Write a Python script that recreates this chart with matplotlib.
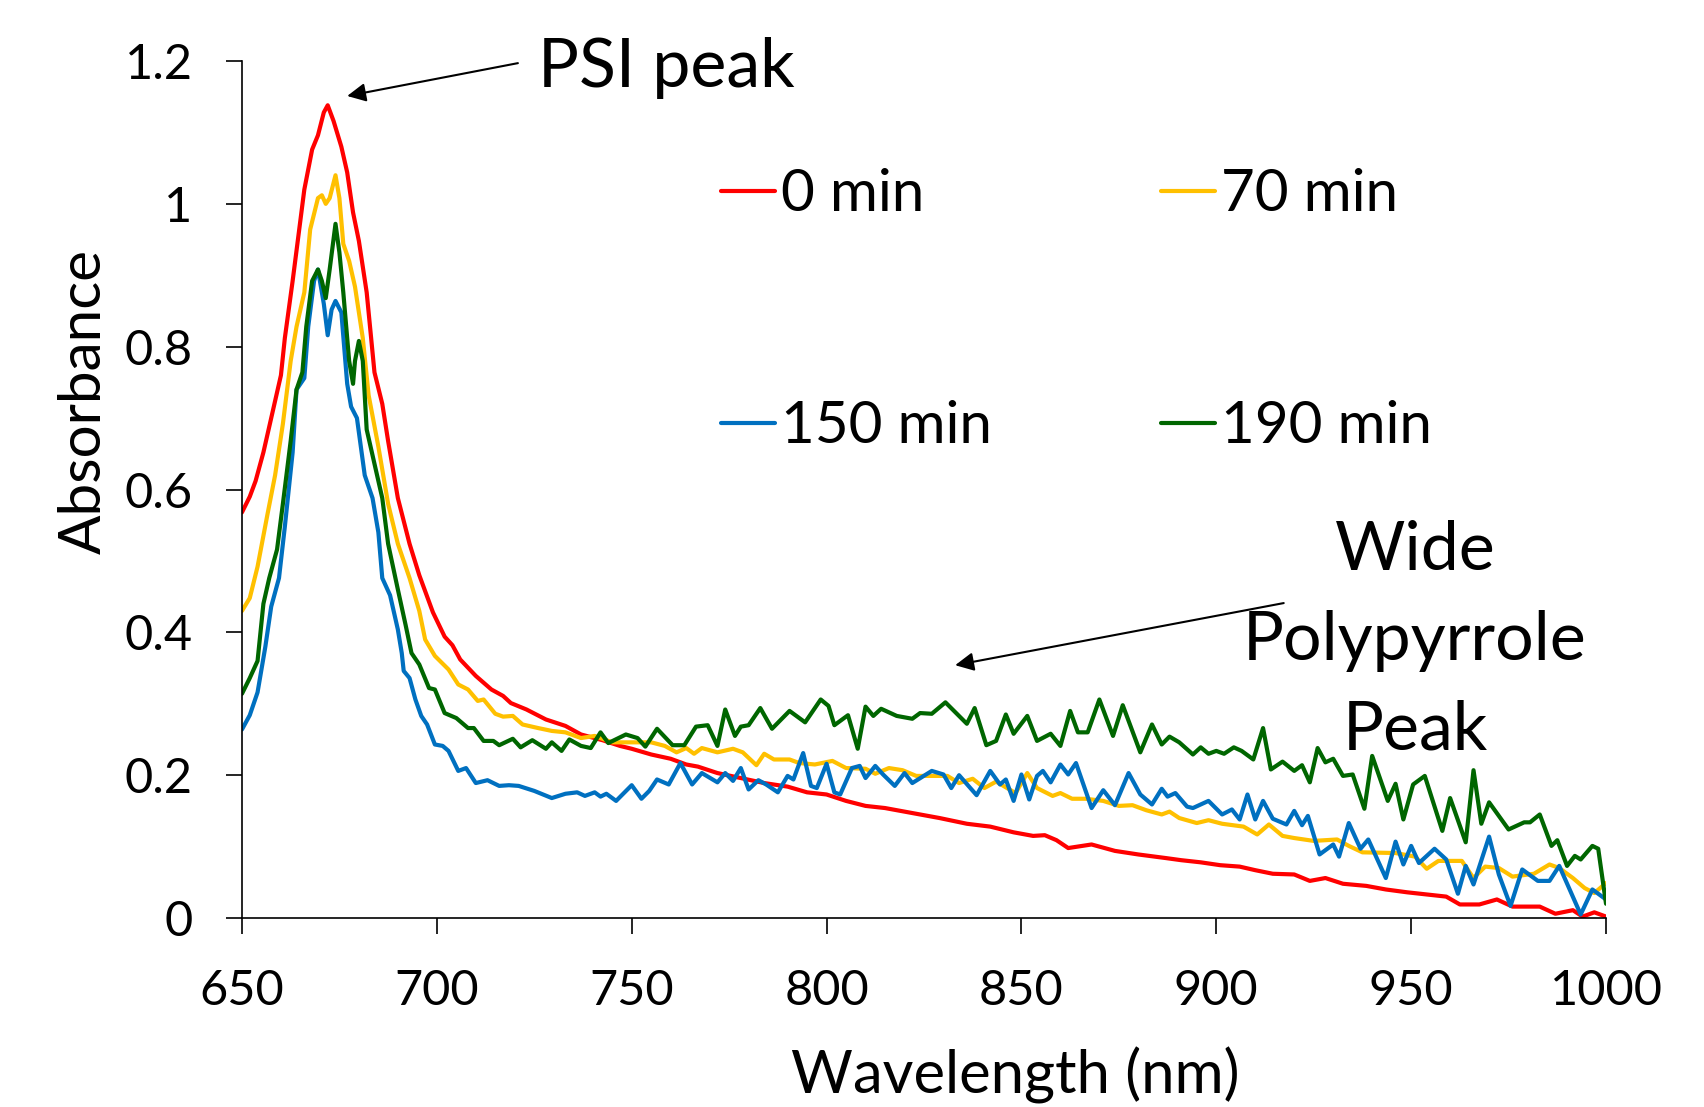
import matplotlib
matplotlib.use("Agg")
import matplotlib.pyplot as plt
from matplotlib.ticker import FuncFormatter

plt.rcParams['font.family'] = ['Lato', 'DejaVu Sans']

# absorbance spectra (wavelength in nm)
wl_0 = [650, 652, 653.5, 655.5, 657.5, 660, 661, 663, 664.5, 666, 668, 669.5, 671, 672, 673.5, 675.5, 677,
        678.5, 680, 682, 684, 686, 687.5, 690, 693, 695.5, 699, 702, 704, 706, 710, 714, 717, 719, 723, 728,
        733, 737, 742.5, 747, 750, 755, 760, 764, 767, 772, 778, 784, 790, 795, 800, 805, 810, 815, 822, 829,
        836, 842, 848, 853, 856, 859, 862, 868, 874, 880, 887, 891, 896, 901, 906, 910, 914.5, 920, 924, 928,
        932.5, 938.5, 943.5, 949, 954, 959, 962.5, 967.5, 972, 976, 983, 987, 991.5, 994, 997, 1000]
abs_0 = [0.568, 0.59, 0.612, 0.652, 0.70, 0.76, 0.812, 0.892, 0.956, 1.02, 1.076, 1.096, 1.128, 1.138, 1.116,
         1.08, 1.044, 0.988, 0.948, 0.876, 0.764, 0.72, 0.668, 0.588, 0.524, 0.48, 0.428, 0.394, 0.382, 0.362,
         0.339, 0.32, 0.311, 0.301, 0.292, 0.278, 0.269, 0.257, 0.249, 0.241, 0.237, 0.229, 0.223, 0.215, 0.212,
         0.203, 0.196, 0.189, 0.184, 0.176, 0.173, 0.164, 0.157, 0.154, 0.147, 0.14, 0.132, 0.128, 0.12, 0.115,
         0.116, 0.109, 0.098, 0.103, 0.094, 0.089, 0.084, 0.081, 0.078, 0.074, 0.072, 0.067, 0.062, 0.061, 0.052,
         0.056, 0.048, 0.045, 0.04, 0.036, 0.033, 0.03, 0.019, 0.019, 0.026, 0.016, 0.016, 0.006, 0.011, 0.002,
         0.008, 0.002]

wl_70 = [650, 652, 654, 656.5, 658.5, 660.5, 662.5, 664, 666, 667.5, 669.5, 670.5, 671.5, 672.5, 674, 675, 676,
         677.5, 679, 681, 682.5, 685, 687.5, 690, 693, 695.5, 697, 699.5, 703, 705.5, 708, 710.5, 712, 715, 717,
         719.5, 722, 726, 729.5, 733, 737, 740.5, 745, 752, 755, 758.5, 761.5, 764, 766, 768, 772, 776, 778.5,
         782, 784, 786.5, 790.5, 793, 797, 801.5, 805, 810, 812.5, 816, 819.5, 823, 831, 834, 837.5, 840.5,
         843.5, 848.5, 851.5, 854, 858, 860, 863, 866.5, 871, 875, 878.5, 882, 886, 888, 890.5, 895, 898, 901.5,
         907, 910.5, 913.5, 917, 920, 925, 931, 934, 937.5, 946, 951, 954, 957, 963, 966, 969, 972.5, 976,
         981.5, 985.5, 988, 991.5, 994.5, 997, 1000]
abs_70 = [0.43, 0.448, 0.492, 0.564, 0.62, 0.692, 0.78, 0.828, 0.876, 0.964, 1.008, 1.012, 1.0, 1.008, 1.04,
          1.008, 0.944, 0.92, 0.884, 0.812, 0.732, 0.66, 0.58, 0.524, 0.476, 0.43, 0.39, 0.367, 0.348, 0.327,
          0.32, 0.304, 0.306, 0.286, 0.282, 0.283, 0.271, 0.266, 0.262, 0.26, 0.252, 0.255, 0.246, 0.246, 0.246,
          0.241, 0.232, 0.238, 0.23, 0.238, 0.232, 0.237, 0.232, 0.214, 0.23, 0.222, 0.222, 0.217, 0.215, 0.22,
          0.21, 0.209, 0.202, 0.21, 0.207, 0.199, 0.199, 0.189, 0.195, 0.182, 0.191, 0.175, 0.203, 0.182, 0.171,
          0.175, 0.167, 0.167, 0.164, 0.157, 0.158, 0.151, 0.145, 0.149, 0.14, 0.133, 0.137, 0.132, 0.128, 0.117,
          0.131, 0.115, 0.112, 0.108, 0.11, 0.101, 0.092, 0.091, 0.086, 0.069, 0.08, 0.08, 0.056, 0.072, 0.07,
          0.058, 0.062, 0.075, 0.07, 0.056, 0.042, 0.035, 0.049]

wl_150 = [650, 652, 654, 656, 657.5, 659.5, 661, 663, 664, 666, 667, 668.5, 669.5, 671, 672, 673, 674, 675.5,
          677, 678, 679.5, 681.5, 683.5, 685, 686, 688, 690, 691, 691.5, 693, 694.5, 696, 697.5, 699.5, 701.5,
          703, 705.5, 707.5, 710, 713, 716, 718.5, 721, 725, 729.5, 733, 736, 738, 740.5, 742, 743.5, 746, 750,
          752.5, 754.5, 756.5, 759.5, 762.5, 765.5, 768, 772, 774, 776, 778, 780, 782.5, 784.5, 787.5, 790,
          791.5, 794, 796, 797.5, 800, 802, 803.5, 806.5, 808.5, 810, 812.5, 814.5, 817.5, 820, 822, 827, 830,
          832, 834, 838.5, 842, 844.5, 846, 848, 850, 852, 854, 855.5, 857.5, 860, 862, 864, 868, 871, 874,
          877.5, 880.5, 883.5, 886, 887.5, 889.5, 892.5, 894, 898, 901.5, 904, 906, 908, 910, 912, 914.5, 918,
          920, 922, 923.5, 926.5, 930, 931.5, 934, 937, 939, 943.5, 946, 948, 950, 952, 956, 959, 962, 964, 966,
          970, 972.5, 975.5, 978.5, 982.5, 985.5, 988, 993.5, 996.5, 1000]
abs_150 = [0.264, 0.284, 0.316, 0.38, 0.436, 0.476, 0.548, 0.652, 0.74, 0.756, 0.828, 0.892, 0.908, 0.86,
           0.816, 0.852, 0.864, 0.848, 0.748, 0.716, 0.70, 0.62, 0.588, 0.54, 0.476, 0.452, 0.404, 0.371, 0.346,
           0.336, 0.306, 0.283, 0.271, 0.243, 0.241, 0.234, 0.206, 0.21, 0.189, 0.193, 0.185, 0.186, 0.185,
           0.178, 0.168, 0.174, 0.176, 0.171, 0.176, 0.17, 0.174, 0.164, 0.186, 0.167, 0.178, 0.194, 0.187,
           0.217, 0.187, 0.203, 0.19, 0.203, 0.192, 0.21, 0.18, 0.193, 0.187, 0.176, 0.199, 0.194, 0.231, 0.185,
           0.182, 0.216, 0.176, 0.173, 0.21, 0.213, 0.196, 0.213, 0.201, 0.185, 0.203, 0.189, 0.206, 0.201,
           0.182, 0.2, 0.172, 0.206, 0.187, 0.194, 0.164, 0.201, 0.166, 0.199, 0.206, 0.19, 0.215, 0.201, 0.217,
           0.154, 0.179, 0.158, 0.203, 0.173, 0.159, 0.181, 0.17, 0.175, 0.156, 0.154, 0.164, 0.145, 0.152,
           0.138, 0.173, 0.138, 0.164, 0.139, 0.131, 0.15, 0.13, 0.143, 0.089, 0.103, 0.086, 0.133, 0.097, 0.11,
           0.056, 0.107, 0.075, 0.101, 0.077, 0.097, 0.082, 0.034, 0.073, 0.047, 0.114, 0.061, 0.017, 0.068,
           0.052, 0.052, 0.073, 0.005, 0.04, 0.026]

wl_190 = [650, 652, 654, 655.5, 657, 659, 660.5, 662.5, 664, 665.5, 666.5, 668, 669.5, 670.5, 671.5, 672.5,
          674, 675, 676, 677.5, 678.5, 679, 680, 681, 682, 684, 686, 687.5, 690, 692, 693.5, 695.5, 698, 699.5,
          702, 705, 708, 709.5, 712, 714.5, 716, 719.5, 721.5, 724.5, 728, 729.5, 732, 734, 737, 739.5, 742,
          744, 748.5, 751.5, 753.5, 756.5, 760.5, 763.5, 766.5, 769.5, 772, 774, 776.5, 778, 780, 783, 786,
          790.5, 794.5, 798.5, 800.5, 802, 805.5, 808, 810, 812, 814, 818, 822, 824, 827, 830.5, 836, 838, 841,
          843.5, 846, 848, 851.5, 854, 857.5, 860, 862.5, 864.5, 867, 870, 873.5, 876, 880.5, 883.5, 886, 888,
          890.5, 894, 896, 898, 900, 902, 904.5, 906.5, 909.5, 912, 914, 917, 920, 922, 924, 926, 928, 930,
          932.5, 935, 938, 940, 944, 946, 948, 950.5, 953.5, 958, 960, 964, 966, 968, 970, 975, 979, 980.5, 983,
          986, 987.5, 990, 992, 993.5, 996.5, 998, 1000]
abs_190 = [0.314, 0.336, 0.36, 0.44, 0.476, 0.516, 0.58, 0.668, 0.74, 0.764, 0.828, 0.892, 0.908, 0.892, 0.868,
           0.908, 0.972, 0.932, 0.876, 0.78, 0.748, 0.78, 0.808, 0.78, 0.684, 0.636, 0.588, 0.524, 0.46, 0.41,
           0.371, 0.355, 0.322, 0.32, 0.287, 0.28, 0.266, 0.266, 0.248, 0.248, 0.242, 0.251, 0.239, 0.249,
           0.237, 0.246, 0.234, 0.25, 0.241, 0.238, 0.26, 0.245, 0.257, 0.252, 0.24, 0.265, 0.242, 0.242, 0.268,
           0.27, 0.241, 0.292, 0.255, 0.268, 0.27, 0.294, 0.265, 0.29, 0.274, 0.306, 0.297, 0.27, 0.284, 0.237,
           0.296, 0.283, 0.293, 0.283, 0.279, 0.287, 0.286, 0.302, 0.272, 0.294, 0.242, 0.248, 0.285, 0.258,
           0.283, 0.248, 0.258, 0.241, 0.29, 0.26, 0.26, 0.306, 0.255, 0.298, 0.232, 0.271, 0.243, 0.254, 0.246,
           0.229, 0.239, 0.23, 0.234, 0.23, 0.239, 0.234, 0.222, 0.266, 0.208, 0.219, 0.206, 0.214, 0.19, 0.238,
           0.218, 0.223, 0.199, 0.201, 0.153, 0.227, 0.164, 0.188, 0.138, 0.187, 0.199, 0.122, 0.168, 0.106,
           0.207, 0.132, 0.162, 0.124, 0.134, 0.134, 0.145, 0.101, 0.109, 0.073, 0.087, 0.082, 0.101, 0.097,
           0.02]

labels = ['0 min', '70 min', '150 min', '190 min']
colors = ['#FF0000', '#FFC000', '#0070C0', '#006600']

x_ticks = [650, 700, 750, 800, 850, 900, 950, 1000]
y_ticks = [0, 0.2, 0.4, 0.6, 0.8, 1.0, 1.2]

fig = plt.figure(figsize=(17.04, 11.07), dpi=100)
ax = fig.add_axes([0.142, 0.1707, 0.8005, 0.7742])

series = [(wl_0, abs_0), (wl_70, abs_70), (wl_150, abs_150), (wl_190, abs_190)]
handles = []
for (x, y), lab, c in zip(series, labels, colors):
    h, = ax.plot(x, y, color=c, lw=3.0, label=lab, solid_joinstyle='round', solid_capstyle='round')
    handles.append(h)

ax.set_xlim(650, 1000)
ax.set_ylim(0, 1.2)
ax.set_xticks(x_ticks)
ax.set_yticks(y_ticks)
ax.yaxis.set_major_formatter(FuncFormatter(lambda v, p: '%g' % v))
for s in ['top', 'right']:
    ax.spines[s].set_visible(False)
for s in ['left', 'bottom']:
    ax.spines[s].set_linewidth(1.2)
ax.tick_params(axis='both', direction='out', length=11.5, width=1.2, labelsize=35)
ax.tick_params(axis='y', pad=24)
ax.tick_params(axis='x', pad=25)

ax.set_xlabel('Wavelength (nm)', fontsize=43)
ax.xaxis.set_label_coords(0.567, -0.15)
ax.set_ylabel('Absorbance', fontsize=42)
ax.yaxis.set_label_coords(-0.096, 0.603)

# legend laid out row by row as in the original
order = [0, 2, 1, 3]
fig.legend([handles[i] for i in order], [labels[i] for i in order], ncol=2, frameon=False,
           loc='upper left', bbox_to_anchor=(0.4232, 0.848), fontsize=42, handlelength=0.93,
           handletextpad=0.1, labelspacing=3.07, columnspacing=2.89, borderpad=0, borderaxespad=0)

arrow = dict(arrowstyle='-|>', color='black', lw=1.5, mutation_scale=28, shrinkA=0, shrinkB=0)
ax.annotate('', xy=(677, 1.151), xytext=(720.8, 1.197), arrowprops=arrow, annotation_clip=False)
ax.text(726, 1.19, 'PSI peak', fontsize=49, ha='left', va='center')
ax.annotate('', xy=(833, 0.354), xytext=(917.3, 0.441), arrowprops=arrow)
ax.text(951, 0.388, 'Wide\nPolypyrrole\nPeak', fontsize=49, ha='center', va='center', linespacing=1.55)

fig.savefig('out.png', dpi=100)
